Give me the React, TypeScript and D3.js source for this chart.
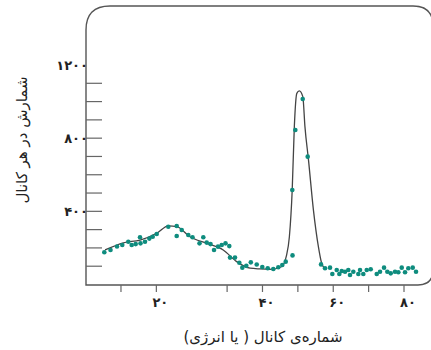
import React from "react";
import * as d3 from "d3";

// channel (uniform axis units) and counts
const pointChannels = [
  5.29, 7.04, 8.88, 10.37, 12.07, 13.03, 14.16, 15.38, 15.52, 16.79, 18.01, 18.97, 20.1,
  23.38, 25.75, 25.75, 27.17, 29.03, 30.22, 32.2, 33.27, 34.23, 35.31, 36.3, 37.43, 38.47,
  39.55, 40.62, 40.82, 42.23, 43.45, 44.3, 45.43, 46.7, 48.37, 49.95, 51.48, 53.06, 54.47,
  55.6, 56.57, 58.49, 58.43, 59.28, 61.37, 62.78,
  66.55, 67.68, 69.09, 69.74, 70.98, 71.72, 72.4, 73.33, 74.26, 74.74, 75.68, 77.09, 77.57,
  78.5, 79.46, 80.59, 82.29, 83.22, 84.36, 85.29, 86.25, 87.46, 88.4, 89.36, 90.29, 91.22,
  92.47, 93.4,
];
const pointCounts = [
  176, 189, 208, 216, 234, 216, 221, 258, 225, 234, 251, 261, 276,
  316, 320, 265, 298, 271, 258, 225, 258, 229, 221, 189, 207, 216,
  225, 210, 147, 147, 119, 92, 102, 121, 109, 96, 89, 85, 94,
  107, 125, 159, 517, 845, 1014, 699,
  110, 89, 92, 57, 79, 57, 74, 70, 79, 52, 70, 57, 79,
  57, 79, 83, 57, 70, 92, 70, 61, 70, 67, 92, 67, 89,
  92, 70,
];

// fitted curve
const curveChannels = [
  5.5, 10.7, 15.4, 20.1, 23.4, 25.8, 29.5, 34.2, 38.9, 42.7, 46.5, 49.3, 52.1, 55.4, 56.7,
  57.6, 58.4, 59.0, 59.7, 60.4, 61.4, 62.0, 63.0, 64.4, 65.8, 66.7, 67.7,
];
const curveCounts = [
  189, 228, 243, 280, 320, 316, 261, 225, 189, 125, 89, 85, 83, 97, 152,
  261, 517, 863, 1045, 1058, 1027, 863, 681, 407, 207, 118, 85,
];

const xMinorTicks = [10, 20, 40, 50, 60, 70, 80, 90];
const xLabelValues = [20, 50, 70, 90];
const xLabelTexts = ["۲۰", "۴۰", "۶۰", "۸۰"];
const yMinorTicks = [100, 200, 300, 400, 500, 600, 700, 800, 900, 1000, 1100];
const yLabelValues = [400, 800, 1200];
const yLabelTexts = ["۴۰۰", "۸۰۰", "۱۲۰۰"];

const xTitle = "شماره‌ی کانال ( یا انرژی)";
const yTitle = "شمارش در هر کانال";

export default function App() {
  const W = 431;
  const H = 350;
  const left = 86;
  const top = 6;
  const right = 433;
  const bottom = 285;

  const x = d3.scaleLinear().domain([0, 90]).range([85.6, 404]);
  const y = d3.scaleLinear().domain([0, 1200]).range([284.5, 65]);

  const line = d3
    .line<number>()
    .x((_, i) => x(curveChannels[i]))
    .y((_, i) => y(curveCounts[i]))
    .curve(d3.curveMonotoneX);

  const rTL = 24;
  const rTR = 20;
  const rBR = 15;
  const frame = [
    `M${left},${bottom}`,
    `L${left},${top + rTL}`,
    `Q${left},${top} ${left + rTL},${top}`,
    `L${right - rTR},${top}`,
    `Q${right},${top} ${right},${top + rTR}`,
    `L${right},${bottom - rBR}`,
    `Q${right},${bottom} ${right - rBR},${bottom}`,
    `Z`,
  ].join(" ");

  const font = "'DejaVu Sans', sans-serif";

  return (
    <svg
      width={W}
      height={H}
      style={{ position: "absolute", left: 0, top: 0, background: "#fff" }}
    >
      <path d={frame} fill="none" stroke="#555" strokeWidth={1.4} />
      {yMinorTicks.map((v) => (
        <line
          key={"yt" + v}
          x1={left}
          x2={left + 16}
          y1={y(v)}
          y2={y(v)}
          stroke="#666"
          strokeWidth={1.2}
        />
      ))}
      {xMinorTicks.map((v) => (
        <line
          key={"xt" + v}
          x1={x(v)}
          x2={x(v)}
          y1={bottom}
          y2={bottom + 7}
          stroke="#666"
          strokeWidth={1.2}
        />
      ))}
      {yLabelValues.map((v, i) => (
        <text
          key={"yl" + v}
          x={left + 2}
          y={y(v)}
          dy="0.35em"
          textAnchor="end"
          fontFamily={font}
          fontSize={13}
          fontWeight="bold"
          fill="#222"
        >
          {yLabelTexts[i]}
        </text>
      ))}
      {xLabelValues.map((v, i) => (
        <text
          key={"xl" + v}
          x={x(v) + 4}
          y={307}
          textAnchor="middle"
          fontFamily={font}
          fontSize={13}
          fontWeight="bold"
          fill="#222"
        >
          {xLabelTexts[i]}
        </text>
      ))}
      <path d={line(curveChannels) || ""} fill="none" stroke="#444" strokeWidth={1.3} />
      {pointChannels.map((c, i) => (
        <circle key={"p" + i} cx={x(c)} cy={y(pointCounts[i])} r={2.3} fill="#0e8c7e" />
      ))}
      <text
        x={263}
        y={342}
        textAnchor="middle"
        direction="rtl"
        fontFamily={font}
        fontSize={15}
        fill="#222"
      >
        {xTitle}
      </text>
      <text
        transform="translate(22,140) rotate(-90)"
        textAnchor="middle"
        dy="0.35em"
        direction="rtl"
        fontFamily={font}
        fontSize={15}
        fill="#222"
      >
        {yTitle}
      </text>
    </svg>
  );
}
